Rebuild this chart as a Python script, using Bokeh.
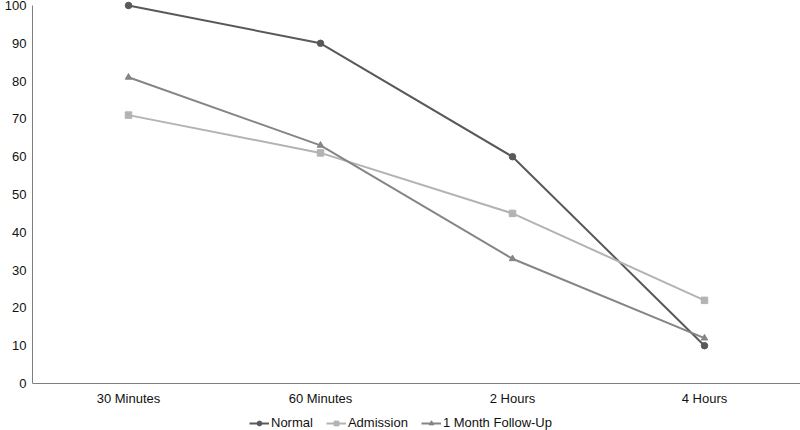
from bokeh.plotting import figure
from bokeh.models import ColumnDataSource, Legend, LegendItem, FactorRange, Range1d, LinearAxis, CategoricalAxis
from bokeh.embed import file_html
from bokeh.resources import INLINE

categories = ["30 Minutes", "60 Minutes", "2 Hours", "4 Hours"]
normal = [100, 90, 60, 10]
admission = [71, 61, 45, 22]
follow_up = [81, 63, 33, 12]
y_ticks = [0, 10, 20, 30, 40, 50, 60, 70, 80, 90, 100]

p = figure(width=800, height=430, x_range=FactorRange(*categories, range_padding=0),
           y_range=Range1d(-12.43, 101.32), output_backend="svg", toolbar_location=None,
           x_axis_location=None, y_axis_location=None,
           min_border_left=32, min_border_right=0, min_border_top=0, min_border_bottom=0)
p.outline_line_color = None
p.xgrid.grid_line_color = None
p.ygrid.grid_line_color = None
p.background_fill_color = "white"
p.border_fill_color = "white"

FONT = "Liberation Sans"
xax = CategoricalAxis(fixed_location=0)
yax = LinearAxis(ticker=y_ticks, bounds=(0, 100))
for ax in (xax, yax):
    ax.major_tick_line_color = None
    ax.minor_tick_line_color = None
    ax.major_tick_out = 0
    ax.major_tick_in = 0
    ax.minor_tick_out = 0
    ax.minor_tick_in = 0
    ax.major_label_text_font = FONT
    ax.major_label_text_font_size = "13px"
    ax.major_label_text_color = "#111111"
    ax.axis_line_color = "#7f7f7f"
    ax.axis_line_width = 1
yax.major_label_standoff = 6
xax.major_label_standoff = 7
p.add_layout(yax, "left")
p.add_layout(xax, "below")

series = [
    ("Normal", normal, "#595959", "circle"),
    ("Admission", admission, "#b3b3b3", "square"),
    ("1 Month Follow-Up", follow_up, "#858585", "triangle"),
]
items = []
for name, vals, col, mk in series:
    src = ColumnDataSource(dict(x=categories, y=vals))
    r1 = p.line("x", "y", source=src, line_color=col, line_width=2)
    r2 = p.scatter("x", "y", source=src, marker=mk, size=6.5, fill_color=col, line_color=col)
    items.append(LegendItem(label=name, renderers=[r1, r2]))

legend = Legend(items=items, orientation="horizontal", location=(217, 0),
                border_line_color=None, background_fill_alpha=0,
                label_text_font=FONT, label_text_font_size="13px",
                label_text_color="#111111", glyph_width=20, glyph_height=12,
                spacing=13, padding=0, margin=0, label_standoff=2)
p.add_layout(legend)

open("out.html", "w").write(file_html(p, INLINE))
